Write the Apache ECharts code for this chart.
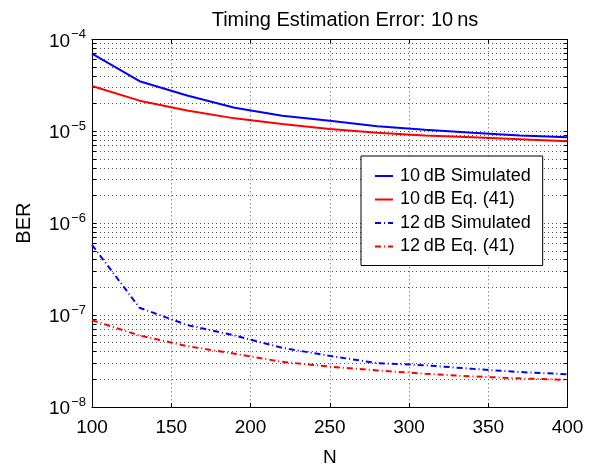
<!DOCTYPE html>
<html>
<head>
<meta charset="utf-8">
<script src="https://cdn.jsdelivr.net/npm/echarts@6/dist/echarts.min.js"></script>
<style>
    html, body {margin: 0; padding: 0; background: #fff;}
    #chart {width: 603px; height: 472px;}
</style>
</head>
<body>
<div id="chart"></div>
<script>
'use strict';

// sample positions (N)
var nValues = [100, 130, 160, 190, 220, 250, 280, 310, 340, 370, 400];

// BER
var sim10dB = [7.0e-5, 3.5e-5, 2.45e-5, 1.8e-5, 1.47e-5, 1.3e-5, 1.13e-5, 1.04e-5, 9.6e-6, 9.0e-6, 8.6e-6];
var eq10dB = [3.1e-5, 2.15e-5, 1.68e-5, 1.38e-5, 1.2e-5, 1.06e-5, 9.6e-6, 9.0e-6, 8.6e-6, 8.2e-6, 7.8e-6];
var sim12dB = [5.8e-7, 1.2e-7, 7.8e-8, 6.0e-8, 4.4e-8, 3.6e-8, 3.0e-8, 2.85e-8, 2.6e-8, 2.4e-8, 2.27e-8];
var eq12dB = [8.8e-8, 6.0e-8, 4.6e-8, 3.8e-8, 3.1e-8, 2.75e-8, 2.5e-8, 2.3e-8, 2.15e-8, 2.05e-8, 1.97e-8];

var seriesNames = ['10\u2009dB Simulated', '10\u2009dB Eq. (41)', '12\u2009dB Simulated', '12\u2009dB Eq. (41)'];

// tick labels
var xTicks = [100, 150, 200, 250, 300, 350, 400];
var yDecades = [1e-8, 1e-7, 1e-6, 1e-5, 1e-4];

var FONT = 'Helvetica, "Liberation Sans", Arial, sans-serif';

function pairs(ys) {
    return nValues.map((n, i) => [n, ys[i]]);
}

// minor ticks 1..9 x 10^k for the log axis
var yMinor = [];
for (var k = -8; k < -4; k++) {
    for (var m = 1; m < 10; m++) {
        yMinor.push(Number((m * Math.pow(10, k)).toPrecision(3)));
    }
}
yMinor.push(1e-4);

var gridLine = {show: true, lineStyle: {color: '#555', width: 1, type: [1, 3]}};

var yLog = {
    type: 'log', logBase: 10, min: 1e-8, max: 1e-4,
    axisLine: {show: true, lineStyle: {color: '#000', width: 1}},
    axisTick: {show: true, inside: true, length: 4, customValues: yMinor, lineStyle: {color: '#000'}},
    minorTick: {show: false}
};

var chart = echarts.init(document.getElementById('chart'));
var option = {
    animation: false,
    backgroundColor: '#fff',
    textStyle: {fontFamily: FONT},
    title: {
        text: 'Timing Estimation Error: 10\u2009ns',
        left: 340, top: 5, textAlign: 'center',
        textStyle: {fontFamily: FONT, fontSize: 20, fontWeight: 'normal', color: '#000'}
    },
    grid: {left: 92, right: 35.5, top: 39.3, bottom: 56.3},
    legend: {
        orient: 'vertical', left: 361, top: 156,
        backgroundColor: '#fff', borderColor: '#000', borderWidth: 1,
        padding: [10, 12, 9, 13],
        itemWidth: 18, itemHeight: 12, itemGap: 3.5,
        itemStyle: {opacity: 0},
        textStyle: {fontFamily: FONT, fontSize: 18, lineHeight: 20, color: '#000', padding: [0, 0, 0, 2]},
        data: seriesNames
    },
    xAxis: [
        {
            type: 'value', min: 100, max: 400, interval: 50,
            name: 'N', nameLocation: 'middle', nameGap: 41,
            nameTextStyle: {fontFamily: FONT, fontSize: 19, color: '#000'},
            axisLine: {show: true, lineStyle: {color: '#000'}},
            axisTick: {show: true, inside: true, length: 4, lineStyle: {color: '#000'}},
            axisLabel: {fontFamily: FONT, fontSize: 19, color: '#000', margin: 11,
                customValues: xTicks},
            splitLine: gridLine
        },
        {
            type: 'value', min: 100, max: 400, interval: 50, position: 'top',
            axisLine: {show: true, lineStyle: {color: '#000'}},
            axisTick: {show: true, inside: true, length: 4, lineStyle: {color: '#000'}},
            axisLabel: {show: false},
            splitLine: {show: false}
        }
    ],
    yAxis: [
        Object.assign({}, yLog, {
            position: 'left',
            name: 'BER', nameLocation: 'middle', nameGap: 58,
            nameTextStyle: {fontFamily: FONT, fontSize: 20, color: '#000'},
            axisLabel: {
                margin: 6, customValues: yDecades,
                formatter: v => '{b|10}{s|\u2212' + Math.round(-Math.log10(v)) + '}',
                rich: {
                    b: {fontFamily: FONT, fontSize: 19, color: '#000', verticalAlign: 'bottom'},
                    s: {fontFamily: FONT, fontSize: 13, color: '#000', verticalAlign: 'bottom', padding: [0, 0, 10, 1]}
                }
            },
            splitLine: gridLine
        }),
        Object.assign({}, yLog, {
            position: 'right',
            axisLabel: {show: false},
            splitLine: {show: false}
        })
    ],
    series: [
        {
            name: seriesNames[0], type: 'line', data: pairs(sim10dB), symbol: 'none',
            lineStyle: {color: '#0000ff', width: 2}, itemStyle: {color: '#0000ff'}, z: 4
        },
        {
            name: seriesNames[1], type: 'line', data: pairs(eq10dB), symbol: 'none',
            lineStyle: {color: '#ff0000', width: 2}, itemStyle: {color: '#ff0000'}, z: 3
        },
        {
            name: seriesNames[2], type: 'line', data: pairs(sim12dB), symbol: 'none',
            lineStyle: {color: '#0000ff', width: 2, type: [6, 3, 1, 3]}, itemStyle: {color: '#0000ff'}, z: 4
        },
        {
            name: seriesNames[3], type: 'line', data: pairs(eq12dB), symbol: 'none',
            lineStyle: {color: '#ff0000', width: 2, type: [6, 3, 1, 3]}, itemStyle: {color: '#ff0000'}, z: 3
        }
    ]
};
chart.setOption(option);
</script>
</body>
</html>
